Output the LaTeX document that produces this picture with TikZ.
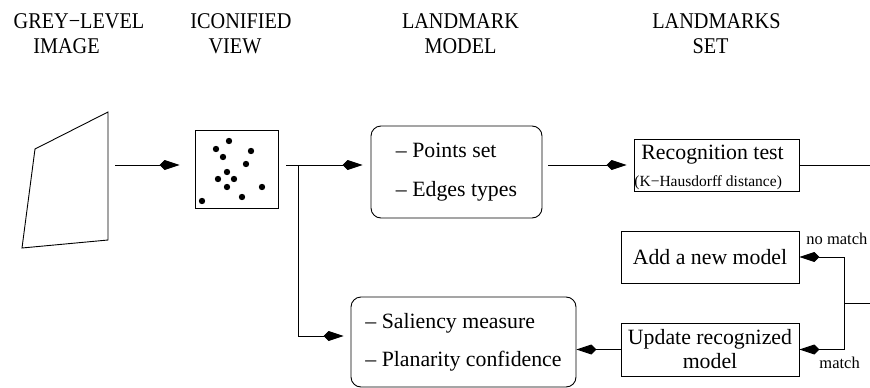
\documentclass[tikz,border=0pt]{standalone}
\usepackage{fontspec}
\setmainfont{Liberation Serif}
\newfontfamily\titlefont[FakeStretch=0.9]{Liberation Serif}
\usetikzlibrary{arrows.meta}
\begin{document}
\begin{tikzpicture}[x=1pt,y=-1pt,
  line width=0.9pt,
  arr/.style={-{Kite[length=20pt,width=10pt,inset=5pt]}},
  title/.style={font=\titlefont\fontsize{22.5}{24}\selectfont, anchor=base, inner sep=0pt},
  sqbox/.style={draw, rectangle, inner sep=0pt},
  rbox/.style={draw, rectangle, rounded corners=10pt, inner sep=0pt, align=left},
  small/.style={font=\fontsize{15.5}{18}\selectfont, anchor=base west, inner sep=0pt},
  lbl/.style={font=\fontsize{16.5}{18}\selectfont, anchor=base west, inner sep=0pt}]
\useasboundingbox (0,0) rectangle (870,388);

% titles
\node[title] (t1a) at (79,28.3) {GREY−LEVEL};
\node[title] (t1b) at (66.5,53.3) {IMAGE};
\node[title] (t2a) at (241,28.3) {ICONIFIED};
\node[title] (t2b) at (235,53.3) {VIEW};
\node[title] (t3a) at (460.5,28.3) {LANDMARK};
\node[title] (t3b) at (460.5,53.3) {MODEL};
\node[title] (t4a) at (716.5,28.3) {LANDMARKS};
\node[title] (t4b) at (710.5,53.3) {SET};

% grey-level image
\draw (35,149) -- (108,112) -- (108,240) -- (22,248) -- cycle;
\coordinate (imgout) at (115,165);

% iconified view
\node[sqbox, minimum width=83pt, minimum height=78pt] (icon) at (236.5,169) {};
\foreach \p in {(229,141),(216,149),(251,151),(223,157),(246,164),(227,172),(218,179),(234,179),(227,187),(262,187),(202,201),(242,197)}
  \fill \p circle (3.2pt);

% boxes
\node[rbox, minimum width=171pt, minimum height=92pt, font=\fontsize{21.8}{39}\selectfont] (model) at (456.5,172) {– Points set\\– Edges types};
\node[sqbox, minimum width=165pt, minimum height=52pt] (rec) at (716.5,165) {};
\node[font=\fontsize{21.8}{24}\selectfont, anchor=base west, inner sep=0pt] (rect) at (641,159) {Recognition test};
\node[small] (recs) at (634,186) {(K−Hausdorff distance)};
\node[sqbox, minimum width=178pt, minimum height=52pt, font=\fontsize{21.8}{24}\selectfont] (add) at (710,257) {Add a new model};
\node[sqbox, minimum width=178pt, minimum height=53pt, align=center, font=\fontsize{21.8}{24}\selectfont] (upd) at (710,349.5) {Update recognized\\model};
\node[rbox, minimum width=225pt, minimum height=90pt, font=\fontsize{21.8}{38}\selectfont] (sal) at (463.5,342) {– Saliency measure\\– Planarity confidence};

% connectors
\draw[arr, shorten >=15pt] (imgout) -- (icon.west |- imgout);
\coordinate (iconout) at (286,165);
\coordinate (split) at (298,165);
\coordinate (salin) at (298,336);
\draw (iconout) -- (split);
\draw[arr, shorten >=8pt] (split) -- (model.west |- split);
\draw[arr, shorten >=7pt] (split) -- (salin) -- (sal.west |- salin);
\coordinate (modout) at (548,165);
\draw[arr, shorten >=7pt] (modout) -- (rec.west |- modout);
\coordinate (recend) at (870,165);
\draw (rec.east) -- (recend);
\coordinate (fork) at (844,303);
\coordinate (forkin) at (870,303);
\draw (forkin) -- (fork);
\draw[arr] (fork) |- (add.east);
\draw[arr] (fork) |- (upd.east);
\draw[arr] (upd.west) -- (sal.east |- upd.west);

% labels
\node[lbl] (nomatch) at (806,244) {no match};
\node[lbl] (match) at (819,368) {match};
\end{tikzpicture}
\end{document}
